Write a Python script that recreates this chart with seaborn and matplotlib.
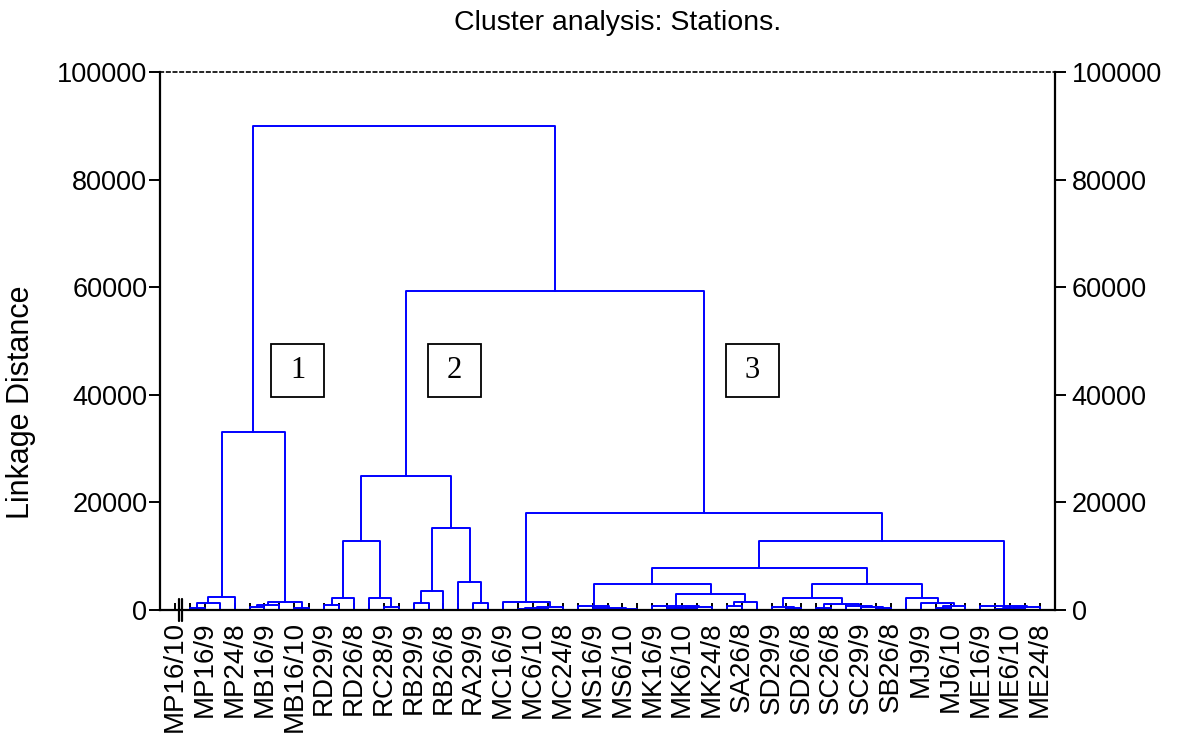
import numpy as np
import pandas as pd
import matplotlib
matplotlib.use("Agg")
import matplotlib.pyplot as plt
import matplotlib.transforms as mtransforms
from matplotlib.patches import Rectangle
import seaborn as sns

# Station names shown under every second leaf of the tree
station_labels = [
    "MP16/10", "MP16/9", "MP24/8", "MB16/9", "MB16/10", "RD29/9", "RD26/8",
    "RC28/9", "RB29/9", "RB26/8", "RA29/9", "MC16/9", "MC6/10", "MC24/8",
    "MS16/9", "MS6/10", "MK16/9", "MK6/10", "MK24/8", "SA26/8", "SD29/9",
    "SD26/8", "SC26/8", "SC29/9", "SB26/8", "MJ9/9", "MJ6/10", "ME16/9",
    "ME6/10", "ME24/8",
]
n_leaves = 59

# Linkage: merge k joins nodes merge_left[k] and merge_right[k] at merge_height[k];
# leaves are 0..58 (in display order), merge k creates node 59 + k.
merge_left = [
    1, 59, 60, 5, 62, 8, 63, 61,
    10, 67, 14, 13, 68, 16, 72, 20, 19, 73, 71,
    23, 78, 79, 22,
    29, 82, 28, 27,
    33, 86, 87, 32, 37, 90, 89, 85,
    41, 40, 43, 47, 46, 45, 96, 95,
    51, 102, 50, 49, 101, 93,
    55, 108, 109, 54, 107, 81, 77, 66,
]
merge_right = [
    2, 3, 4, 6, 7, 9, 64, 65,
    11, 12, 15, 69, 70, 17, 18, 21, 74, 75, 76,
    24, 25, 26, 80,
    30, 31, 83, 84,
    34, 35, 36, 88, 38, 39, 91, 92,
    42, 94, 44, 48, 97, 98, 99, 100,
    52, 53, 103, 104, 105, 106,
    56, 57, 58, 110, 111, 112, 113, 114,
]
merge_height = [
    310, 1250, 2350, 500, 870, 310, 1450, 33000,
    930, 2200, 500, 2200, 12900, 1350, 3600, 1350, 5200, 15300, 24900,
    150, 350, 600, 1400,
    100, 250, 450, 740,
    300, 450, 600, 800, 800, 1550, 2900, 4830,
    400, 620, 300, 300, 500, 800, 1100, 2200,
    300, 800, 1250, 2200, 4830, 7800,
    250, 430, 550, 800, 12800, 18000, 59300, 90000,
]

group_names = ["1", "2", "3"]
group_x = [8.25, 18.75, 38.7]
group_y = 44600

# Build the elbow segments of the dendrogram
pos = {i: float(i) for i in range(n_leaves)}
hgt = {i: 0.0 for i in range(n_leaves)}
rows = []
for k, (a, b, h) in enumerate(zip(merge_left, merge_right, merge_height)):
    xa, xb = pos[a], pos[b]
    for x, y in ((xa, hgt[a]), (xa, h), (xb, h), (xb, hgt[b])):
        rows.append({"link": k, "x": x, "y": y})
    pos[n_leaves + k] = 0.5 * (xa + xb)
    hgt[n_leaves + k] = h
segments = pd.DataFrame(rows)

sns.set_style("white")
plt.rcParams["font.family"] = ["Liberation Sans", "DejaVu Sans"]
plt.rcParams["text.color"] = "black"
plt.rcParams["axes.labelcolor"] = "black"

fig = plt.figure(figsize=(11.79, 7.38), dpi=100)
ax = fig.add_axes([160 / 1179, 1 - 610 / 738, 895 / 1179, 538 / 738])

sns.lineplot(data=segments, x="x", y="y", units="link", estimator=None,
             sort=False, color="#0000ff", lw=1.4, ax=ax, legend=False)

ax.set_xlim(-1, 59)
ax.set_ylim(0, 100000)

yt = np.arange(0, 100001, 20000)
ax.set_yticks(yt)
ax.set_yticklabels([str(v) for v in yt])
ax.set_xticks(np.arange(n_leaves))
tick_text = []
for i in range(n_leaves):
    tick_text.append(station_labels[i // 2] if i % 2 == 0 else "")
ax.set_xticklabels(tick_text)

ax.tick_params(axis="y", direction="out", length=8, width=1.4, labelsize=19.5,
               left=True, right=True, labelleft=True, labelright=True,
               colors="black", pad=4)
ax.tick_params(axis="x", direction="in", length=5, width=1.4, labelsize=20,
               bottom=True, labelrotation=90, colors="black", pad=8)

# left tick labels sit right against the tick ends
shift = mtransforms.ScaledTranslation(4 / 100, 0, fig.dpi_scale_trans)
for tick in ax.yaxis.get_major_ticks():
    tick.label1.set_transform(tick.label1.get_transform() + shift)

for side in ("left", "right", "bottom", "top"):
    ax.spines[side].set_visible(True)
    ax.spines[side].set_color("black")
    ax.spines[side].set_linewidth(1.6)
ax.spines["top"].set_linewidth(1.2)
ax.spines["top"].set_linestyle((0, (2, 2)))

ax.set_xlabel("")
ax.set_ylabel("Linkage Distance", fontsize=22, color="black")
ax.yaxis.set_label_coords(-0.138, 0.387)

# axis break marks next to the first leaf
brk = mtransforms.blended_transform_factory(ax.transData, ax.transAxes)
for bx in (0.25, 0.5):
    ax.plot([bx, bx], [-0.02, 0.02], color="black", lw=1.6,
            transform=brk, clip_on=False)

fig.text(0.524, 0.969, "Cluster analysis: Stations.", ha="center",
         va="center", fontsize=20.5, color="black")

# boxed group numbers
fig.canvas.draw()
side_px = 53
for name, gx in zip(group_names, group_x):
    cx, cy = ax.transData.transform((gx, group_y))
    ax.add_patch(Rectangle((cx - side_px / 2, cy - side_px / 2), side_px, side_px,
                           transform=None, facecolor="white", edgecolor="black",
                           lw=1.3, zorder=5, clip_on=False))
    ax.text(gx, group_y, name, ha="center", va="center", fontsize=22,
            color="black", family=["Liberation Serif", "DejaVu Serif"], zorder=6)

fig.savefig("out.png", dpi=100)
